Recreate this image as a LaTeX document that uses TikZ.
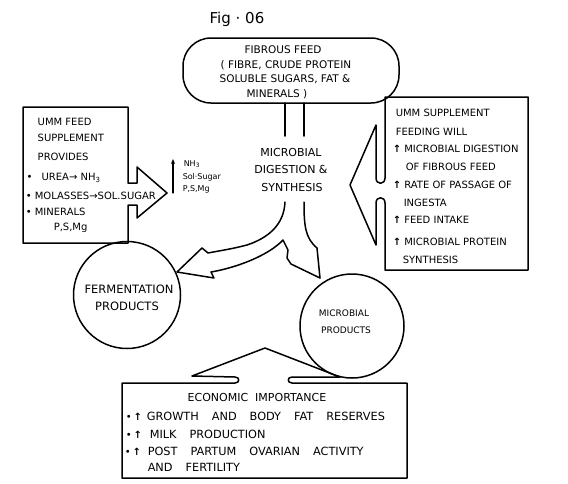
\documentclass[tikz,border=0pt]{standalone}
\usepackage{fontspec}
\setmainfont{DejaVu Sans}
\newfontfamily\hand{DejaVu Sans}
\newcommand\wsp{\hspace{13pt}}
\newcommand\uar{{\bfseries ↑}}
\usetikzlibrary{arrows.meta}
\begin{document}
\begin{tikzpicture}[x=1pt,y=-1pt,line width=1.5pt,line join=round,line cap=round,
  txt/.style={inner sep=0pt,anchor=base west,font=\hand\fontsize{10}{12}\selectfont},
  rtxt/.style={txt,font=\hand\fontsize{10}{12}\selectfont},
  ltxt/.style={txt,font=\hand\fontsize{10}{12}\selectfont},
  ctxt/.style={inner sep=0pt,anchor=base,font=\hand\fontsize{10.5}{12}\selectfont},
  btxt/.style={inner sep=0pt,anchor=base west,font=\hand\fontsize{11.3}{12}\selectfont},
  small/.style={inner sep=0pt,anchor=base west,font=\hand\fontsize{8}{10}\selectfont}]
\useasboundingbox[fill=white] (0,0) rectangle (568,483);

% title
\node[inner sep=0pt,anchor=base,font=\hand\fontsize{15}{18}\selectfont] (fig) at (237,23) {Fig · 06};

% fibrous feed
\node[draw,rounded corners=28pt,minimum width=216pt,minimum height=65pt,inner sep=0pt] (feed) at (291,70.5) {};
\node[ctxt] (f1) at (283,53.5) {FIBROUS FEED};
\node[ctxt] (f2) at (286,68.5) {( FIBRE, CRUDE PROTEIN};
\node[ctxt] (f3) at (285,82.5) {SOLUBLE SUGARS, FAT \&};
\node[ctxt] (f4) at (277,97.5) {MINERALS )};
\draw (285,103) -- (285,136);
\draw (304,103) -- (304,136);

% centre text
\node[ctxt,font=\hand\fontsize{11}{12}\selectfont] (m1) at (291,156.5) {MICROBIAL};
\node[ctxt,font=\hand\fontsize{11}{12}\selectfont] (m2) at (291,173.5) {DIGESTION \&};
\node[ctxt,font=\hand\fontsize{11}{12}\selectfont] (m3) at (292,191.5) {SYNTHESIS};

% forked arrow
\draw (285,202) .. controls (284,225) and (268,238) .. (247,245)
  .. controls (232,249) and (218,251) .. (208,253) -- (202,248) -- (177,272)
  -- (214,278) -- (211,272) .. controls (235,268) and (268,256) .. (283,240)
  -- (288,250) -- (287,258) -- (291,264) -- (320,278);
\draw (304,202) .. controls (304,225) and (305,238) .. (317,248) -- (320,278);

% circles
\node[draw,circle,minimum size=107pt,inner sep=0pt] (ferm) at (127,295) {};
\node[ctxt,font=\hand\fontsize{11.5}{12}\selectfont] (fe1) at (129,293.5) {FERMENTATION};
\node[ctxt,font=\hand\fontsize{11.5}{12}\selectfont] (fe2) at (127,310.5) {PRODUCTS};
\node[draw,circle,minimum size=104pt,inner sep=0pt] (micro) at (352,326) {};
\node[inner sep=0pt,anchor=base,font=\hand\fontsize{9}{10}\selectfont] (mp1) at (344,316.5) {MICROBIAL};
\node[inner sep=0pt,anchor=base,font=\hand\fontsize{9}{10}\selectfont] (mp2) at (346,333.5) {PRODUCTS};

% left box with arrow
\draw (128,183) -- (137,183) -- (137,167) -- (167,193) -- (137,218) -- (137,205)
  -- (128,205) -- (128,243) -- (23,243) -- (23,107) -- (128,107) -- cycle;
\node[ltxt] (l1) at (37,125.5) {UMM FEED};
\node[ltxt] (l2) at (37,141.5) {SUPPLEMENT};
\node[ltxt] (l3) at (37,160.5) {PROVIDES};
\node[ltxt] (l4) at (26,180.5) {•\hspace{9pt}UREA→ NH\textsubscript{3}};
\node[ltxt] (l5) at (25,199.5) {• MOLASSES→SOL.SUGAR};
\node[ltxt] (l6) at (25,215.5) {• MINERALS};
\node[ltxt] (l7) at (53,230.5) {P,S,Mg};

% small label
\draw[-{Stealth[length=5pt,width=4pt]},line width=1.1pt] (173,193) -- (173,159);
\node[small] (s1) at (183,166) {NH\textsubscript{3}};
\node[small] (s2) at (182,179) {Sol·Sugar};
\node[small] (s3) at (182,191) {P,S,Mg};

% right box with arrow
\draw (385,178) -- (385,97) -- (528,97) -- (528,270) -- (385,270) -- (385,203)
  .. controls (385,196) and (376,196) .. (376,203) -- (376,245) -- (350,185)
  -- (376,125) -- (376,178) .. controls (376,185) and (385,185) .. (385,178);
\node[rtxt] (r1) at (395,116.5) {UMM SUPPLEMENT};
\node[rtxt] (r2) at (395,135.5) {FEEDING WILL};
\node[rtxt] (r3) at (392,152.5) {\uar\ MICROBIAL DIGESTION};
\node[rtxt] (r4) at (405,170.5) {OF FIBROUS FEED};
\node[rtxt] (r5) at (392,188.5) {\uar\ RATE OF PASSAGE OF};
\node[rtxt] (r6) at (403,206.5) {INGESTA};
\node[rtxt] (r7) at (392,223.5) {\uar\ FEED INTAKE};
\node[rtxt] (r8) at (392,245.5) {\uar\ MICROBIAL PROTEIN};
\node[rtxt] (r9) at (402,263.5) {SYNTHESIS};

% bottom box with arrow
\draw (192,376) -- (265,348) -- (340,377) -- (292,377)
  .. controls (287,377) and (287,383) .. (292,383) -- (407,383) -- (407,478)
  -- (122,478) -- (122,383) -- (235,383)
  .. controls (240,383) and (240,377) .. (235,377) -- cycle;
\node[ctxt,font=\hand\fontsize{11}{12}\selectfont] (e0) at (257,401.5) {ECONOMIC\hspace{7pt}IMPORTANCE};
\node[txt] (b1) at (125,420.5) {•\hspace{2pt}\uar};
\node[btxt] (e1) at (146,420.5) {GROWTH\wsp AND\wsp BODY\wsp FAT\wsp RESERVES};
\node[txt] (b2) at (125,438.5) {•\hspace{2pt}\uar};
\node[btxt] (e2) at (149,438.5) {MILK\wsp PRODUCTION};
\node[txt] (b3) at (124,455.5) {•\hspace{2pt}\uar};
\node[btxt] (e3) at (147,455.5) {POST\wsp PARTUM\wsp OVARIAN\wsp ACTIVITY};
\node[btxt] (e4) at (147,471.5) {AND\wsp FERTILITY};
\end{tikzpicture}
\end{document}
